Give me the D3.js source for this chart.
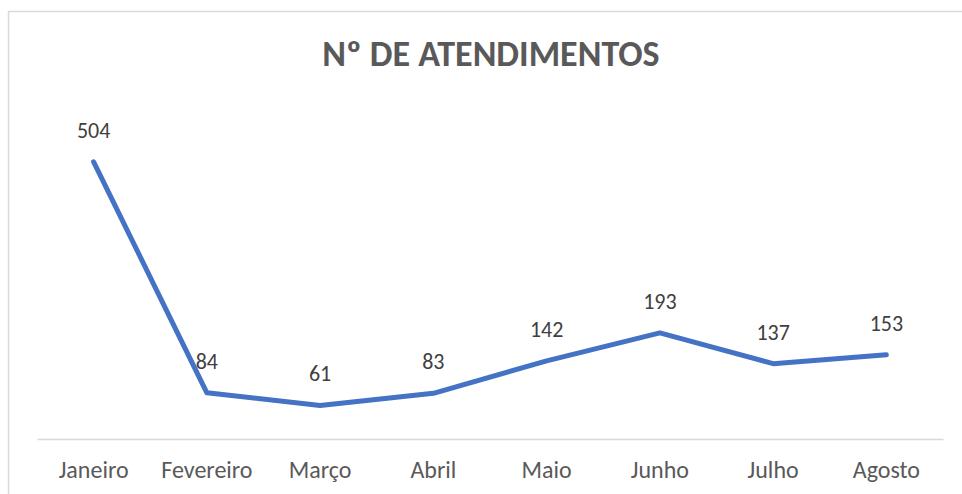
<!DOCTYPE html>
<html>
<head>
<meta charset="utf-8">
<script src="https://cdn.jsdelivr.net/npm/d3@7"></script>
<style>
  body { margin: 0; background: #fff; }
  svg { display: block; font-family: Carlito, Calibri, Lato, sans-serif; }
</style>
</head>
<body>
<div id="chart"></div>
<script>
var meses = ["Janeiro", "Fevereiro", "Março", "Abril", "Maio", "Junho", "Julho", "Agosto"];
var atendimentos = [504, 84, 61, 83, 142, 193, 137, 153];
var titulo = "Nº DE ATENDIMENTOS";

var w = 962, h = 494;
var mLeft = 37, mRight = 943, mTop = 109, mBottom = 439;

var svg = d3.select("#chart")
  .append("svg")
  .attr("width", w)
  .attr("height", h);

// borda da área do gráfico (cortada à direita e embaixo)
svg.append("rect")
  .attr("x", 8.5)
  .attr("y", 11.5)
  .attr("width", 980)
  .attr("height", 520)
  .attr("fill", "none")
  .attr("stroke", "#d9d9d9")
  .attr("stroke-width", 1.5);

var x = d3.scaleBand()
  .domain(meses)
  .range([mLeft, mRight]);

var y = d3.scaleLinear()
  .domain([0, 600])
  .range([mBottom, mTop]);

svg.append("text")
  .attr("x", 491)
  .attr("y", 66)
  .attr("text-anchor", "middle")
  .attr("font-size", 36)
  .attr("font-weight", "bold")
  .attr("fill", "#595959")
  .text(titulo);

var xAxis = svg.append("g")
  .attr("transform", "translate(0," + mBottom + ")")
  .call(d3.axisBottom(x).tickSize(0).tickPadding(22));

xAxis.select(".domain").attr("stroke", "#d9d9d9").attr("stroke-width", 1.5);
xAxis.selectAll("text")
  .attr("font-size", 24)
  .attr("font-family", "Carlito, Calibri, Lato, sans-serif")
  .attr("fill", "#595959");

var line = d3.line()
  .x(function(d, i){ return x(meses[i]) + x.bandwidth() / 2; })
  .y(function(d){ return y(d); });

svg.append("path")
  .datum(atendimentos)
  .attr("d", line)
  .attr("fill", "none")
  .attr("stroke", "#4472c4")
  .attr("stroke-width", 5)
  .attr("stroke-linecap", "round")
  .attr("stroke-linejoin", "round");

svg.selectAll(".rotulo")
  .data(atendimentos)
  .enter()
  .append("text")
  .attr("class", "rotulo")
  .attr("x", function(d, i){ return x(meses[i]) + x.bandwidth() / 2; })
  .attr("y", function(d){ return y(d) - 24; })
  .attr("text-anchor", "middle")
  .attr("font-size", 22)
  .attr("fill", "#404040")
  .text(function(d){ return d; });
</script>
</body>
</html>
